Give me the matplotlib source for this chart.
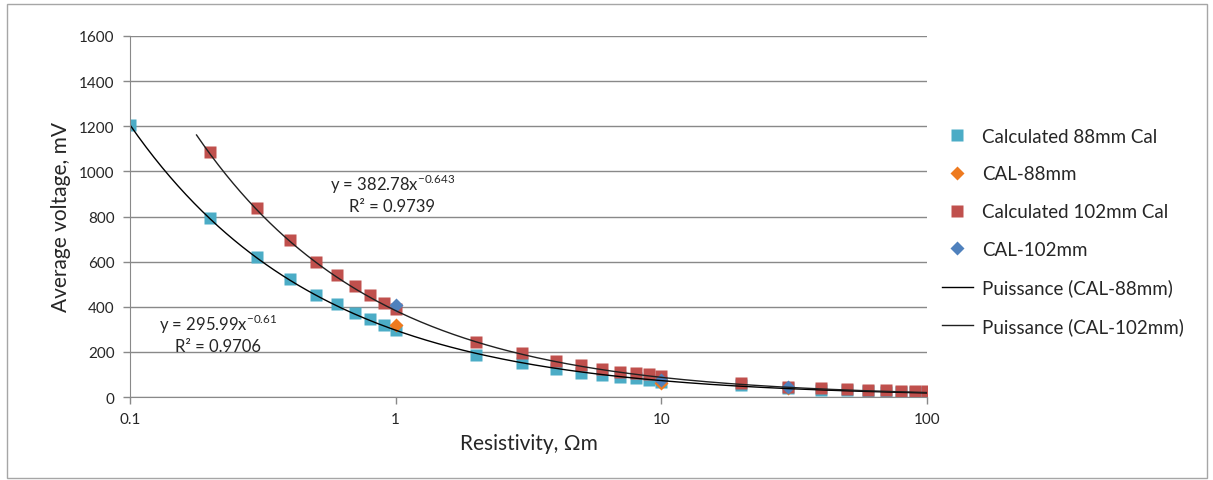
import numpy as np
import matplotlib
matplotlib.use("Agg")
import matplotlib.pyplot as plt
from matplotlib.patches import Rectangle

plt.rcParams['font.family'] = ['Lato', 'DejaVu Sans']

# resistivity (ohm m) for the calculated series
res = [0.1, 0.2, 0.3, 0.4, 0.5, 0.6, 0.7, 0.8, 0.9, 1,
       2, 3, 4, 5, 6, 7, 8, 9, 10,
       20, 30, 40, 50, 60, 70, 80, 90, 100]

calc_88 = [1206, 792, 620, 521, 454, 411, 374, 345, 318, 296,
           188, 149, 124, 108, 98, 90, 83, 76, 68,
           52, 40, 31, 30, 25, 24, 21, 20, 20]

res_102 = res[1:]
calc_102 = [1084, 837, 695, 600, 540, 492, 450, 416, 388,
            245, 194, 161, 142, 124, 112, 106, 100, 95,
            64, 46, 38, 37, 31, 31, 27, 27, 27]

# calibration points
cal_x = [1, 10, 30]
cal_88 = [318, 60, 40]
cal_102 = [408, 75, 45]

# power trendlines from the chart  y = a * x^b
a_88, b_88 = 295.99, -0.61
a_102, b_102 = 382.78, -0.643
trend_88_range = (0.1, 100)
trend_102_range = (0.178, 100)

c_cyan = '#4BACC6'
c_red = '#C0504D'
c_orange = '#EE7A1F'
c_blue = '#4F81BD'
grid_c = '#898989'
txt_c = '#262626'

fig = plt.figure(figsize=(12.13, 4.81), dpi=100)
ax = fig.add_axes([130/1213, 1-398/481, 797/1213, 361/481])

h1, = ax.plot(res, calc_88, 's', color=c_cyan, ms=9.2, mec='none', label='Calculated 88mm Cal')
h2, = ax.plot(cal_x, cal_88, 'D', color=c_orange, ms=7, mec='none', label='CAL-88mm')
h3, = ax.plot(res_102, calc_102, 's', color=c_red, ms=9.2, mec='none', label='Calculated 102mm Cal')
h4, = ax.plot(cal_x, cal_102, 'D', color=c_blue, ms=7, mec='none', label='CAL-102mm')

xs = np.logspace(np.log10(trend_88_range[0]), np.log10(trend_88_range[1]), 200)
h5, = ax.plot(xs, a_88 * xs**b_88, color='black', lw=1, label='Puissance (CAL-88mm)')
xs = np.logspace(np.log10(trend_102_range[0]), np.log10(trend_102_range[1]), 200)
h6, = ax.plot(xs, a_102 * xs**b_102, color='#202020', lw=1, label='Puissance (CAL-102mm)')

ax.set_xscale('log')
ax.set_xlim(0.1, 100)
ax.set_ylim(0, 1600)
ax.set_xticks([0.1, 1, 10, 100])
ax.set_xticklabels(['0.1', '1', '10', '100'])
ax.xaxis.set_minor_locator(matplotlib.ticker.NullLocator())
ax.set_yticks(range(0, 1601, 200))
ax.yaxis.grid(True, color=grid_c, lw=1)
ax.set_axisbelow(True)
for s in ['top', 'right']:
    ax.spines[s].set_visible(False)
for s in ['left', 'bottom']:
    ax.spines[s].set_color(grid_c)
ax.tick_params(axis='both', colors=grid_c, labelcolor=txt_c, labelsize=11, length=5, width=1, pad=6)

ax.set_xlabel('Resistivity, Ωm', fontsize=15, color=txt_c, labelpad=5)
ax.set_ylabel('Average voltage, mV', fontsize=15, color=txt_c, labelpad=6)

ax.text(0.329, 0.565, 'y = 382.78x$^{\\mathregular{-0.643}}$\nR² = 0.9739', transform=ax.transAxes,
        ha='center', va='center', fontsize=12, color=txt_c, linespacing=1.2)
ax.text(0.111, 0.177, 'y = 295.99x$^{\\mathregular{-0.61}}$\nR² = 0.9706', transform=ax.transAxes,
        ha='center', va='center', fontsize=12, color=txt_c, linespacing=1.2)

fig.legend(handles=[h1, h2, h3, h4, h5, h6], loc='upper left', bbox_to_anchor=(925/1213, 1-112/481),
           frameon=False, fontsize=13.5, labelspacing=1.1, handlelength=1.65, handletextpad=0.48,
           labelcolor=txt_c)

fig.patches.append(Rectangle((7/1213, 1-479/481), 1200/1213, 474/481, transform=fig.transFigure,
                             fill=False, edgecolor='#A6A6A6', lw=1))

fig.savefig('out.png', dpi=100)
